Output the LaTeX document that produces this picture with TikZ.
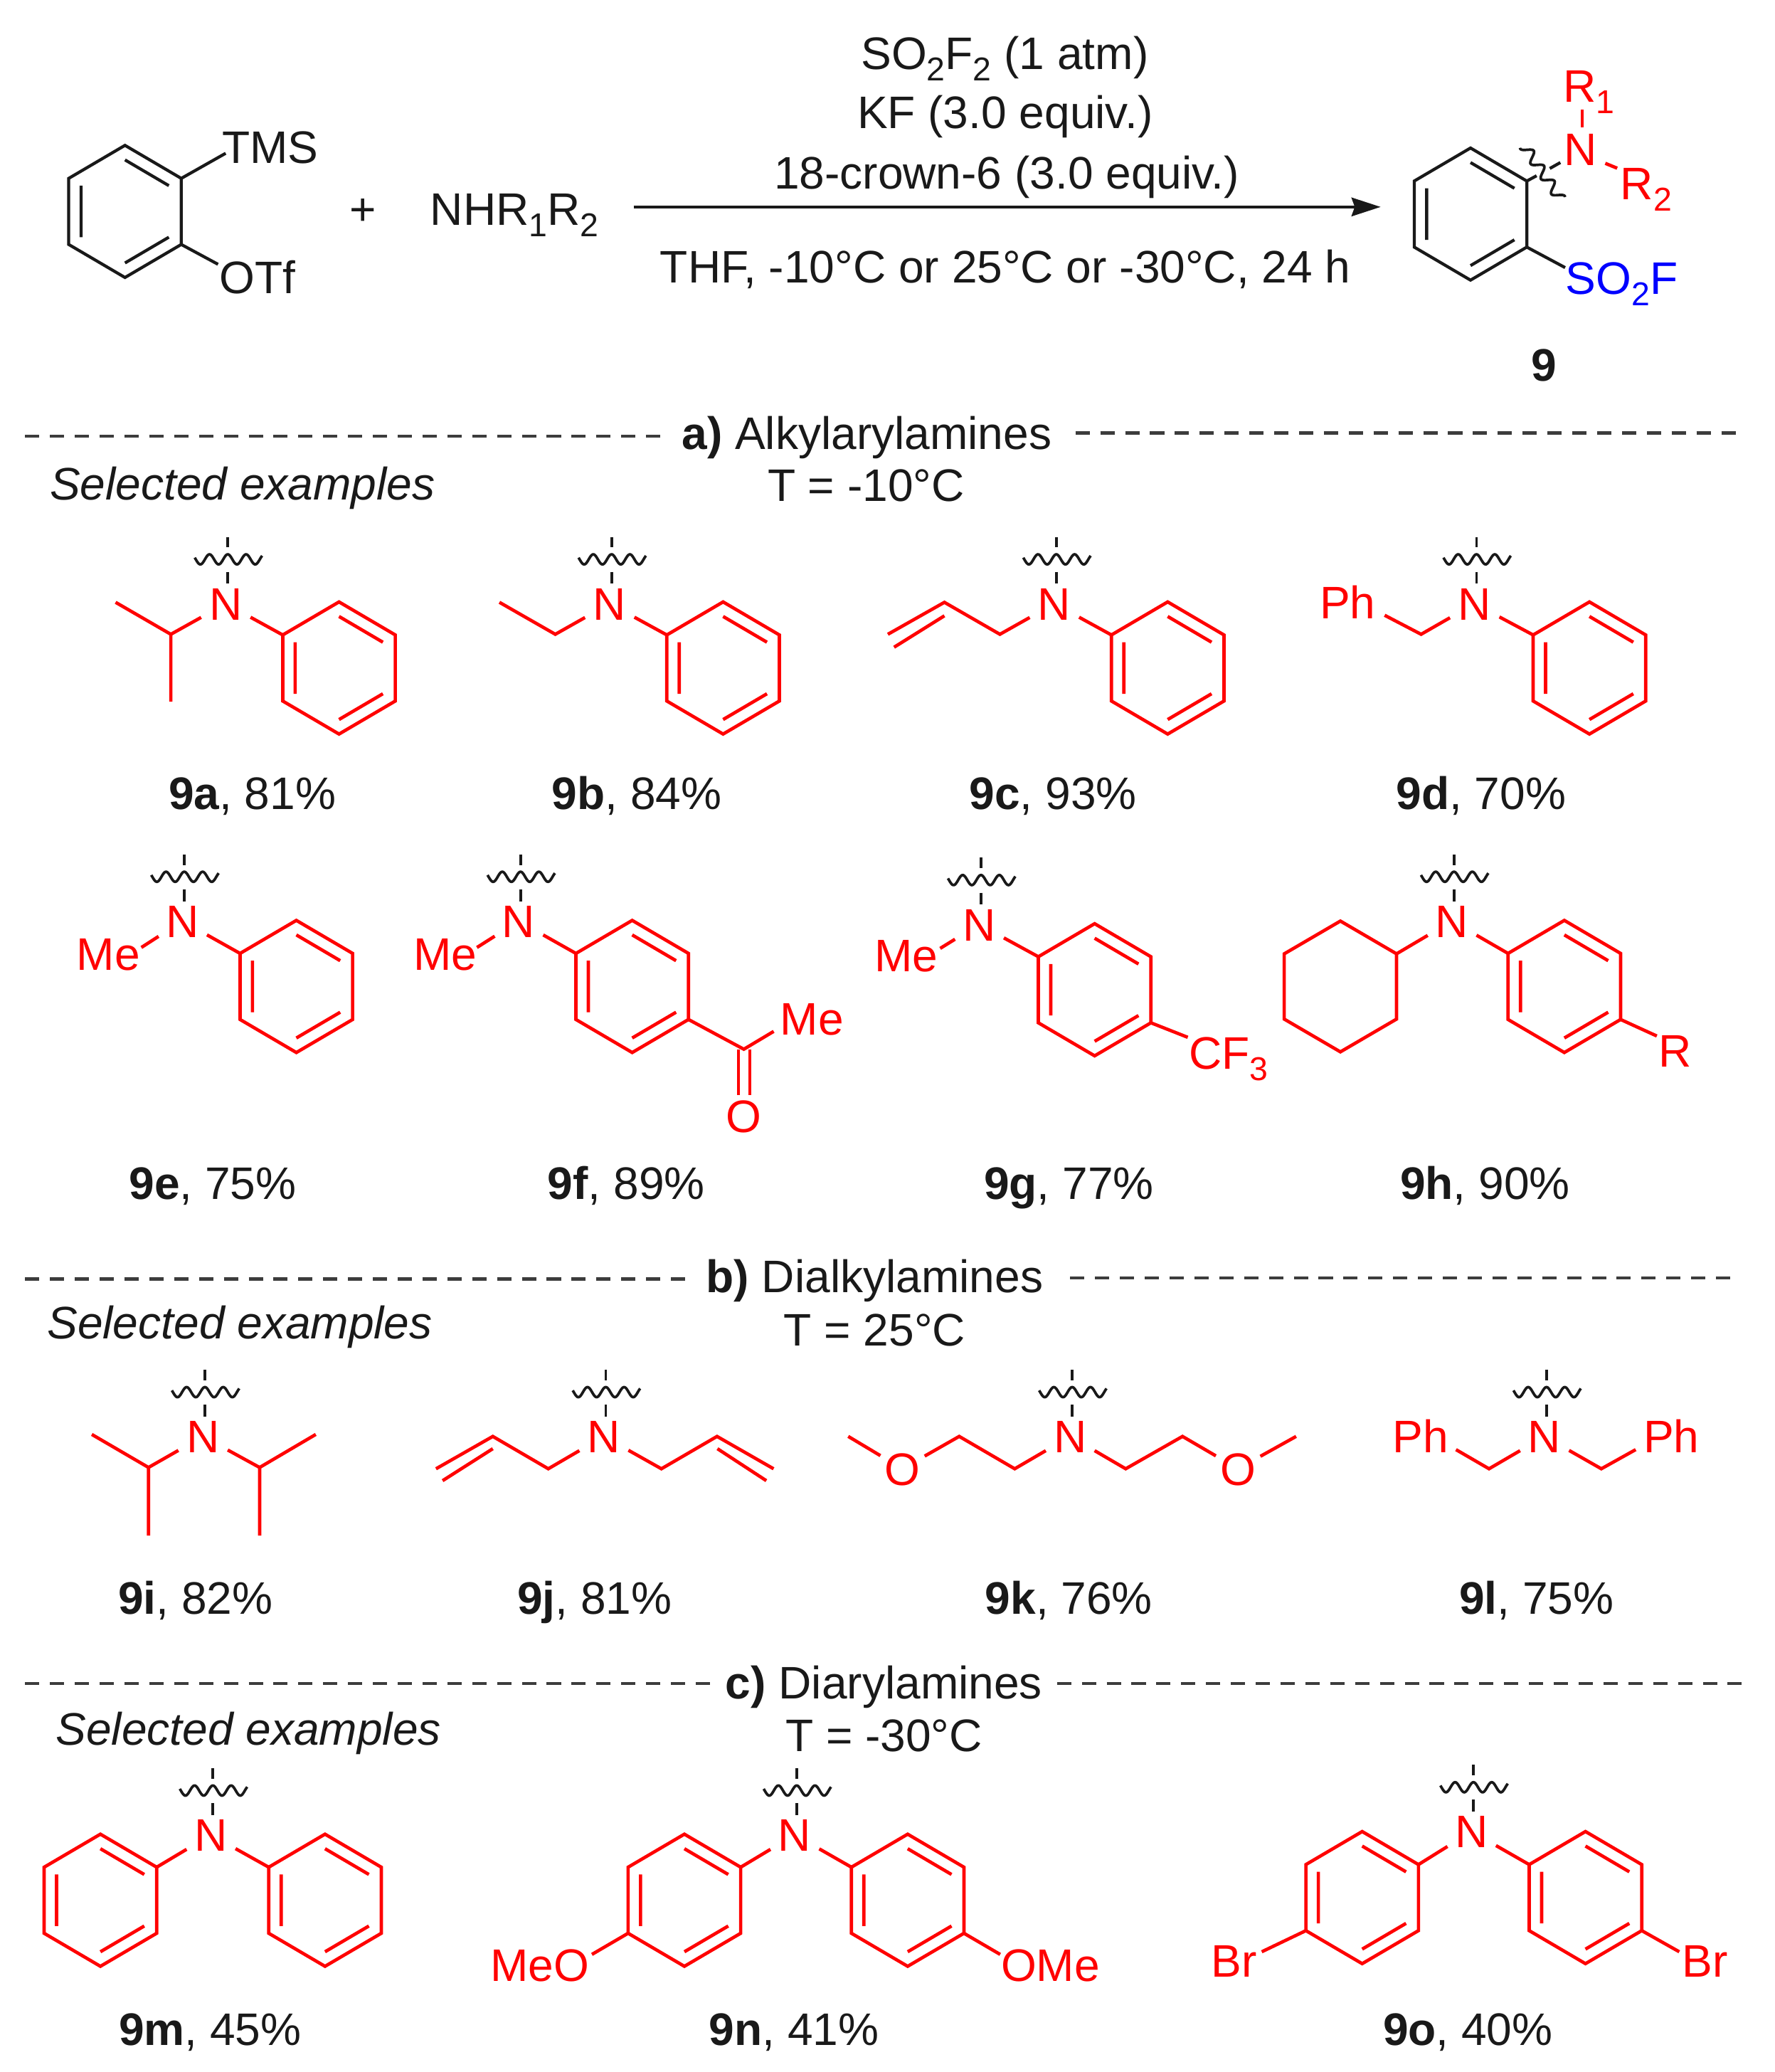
\documentclass[tikz,border=0pt]{standalone}
\usepackage{fontspec}
\setmainfont{Liberation Sans}
\usetikzlibrary{arrows.meta}
\definecolor{chemred}{RGB}{255,0,0}
\definecolor{chemblue}{RGB}{0,0,255}
\definecolor{inkk}{RGB}{25,25,25}
\tikzset{
  molr/.style={draw=chemred,line width=1.25pt,line join=miter},
  molk/.style={draw=inkk,line width=1.15pt,line join=miter},
  cut/.style={draw=inkk,line width=1pt},
  sect/.style={draw=inkk!85,line width=1.25pt,dash pattern=on 5.4pt off 4pt},
  lab/.style={font=\fontsize{17.25}{20.7}\selectfont,inner sep=0pt,text height=12.35pt,text depth=0pt,text=inkk},
  red lab/.style={lab,text=chemred},
  blue lab/.style={lab,text=chemblue},
  atomN/.style={red lab,circle,minimum size=21pt},
  atomO/.style={red lab,circle,minimum size=19pt},
}
\newcommand{\sbs}[1]{\smash{\raisebox{-4.3pt}{\fontsize{12.5}{14}\selectfont #1}}}
\newcommand{\benzring}[4][molr]{%
  \begin{scope}[shift={(#3,#4)}]
    \coordinate (#2a) at (0,-50);
    \coordinate (#2b) at (42.6,-25);
    \coordinate (#2c) at (42.6,25);
    \coordinate (#2d) at (0,50);
    \coordinate (#2e) at (-42.6,25);
    \coordinate (#2f) at (-42.6,-25);
    \draw[#1] (#2a)--(#2b)--(#2c)--(#2d)--(#2e)--(#2f)--cycle;
    \draw[#1] (0,-39)--(33.2,-19.5) (33.2,19.5)--(0,39) (-33.2,19.5)--(-33.2,-19.5);
  \end{scope}}
\newcommand{\cutmark}[1]{%
  \begin{scope}[shift={(#1)}]
    \draw[cut] plot[domain=-25:26,samples=80] ({1.5+\x},{-33.5-3.8*cos(\x*26)});
    \draw[cut] (1.5,-50.5)--(1.5,-42.5) (1.5,-24)--(1.5,-15);
  \end{scope}}
\begin{document}
\begin{tikzpicture}[x=.5pt,y=-.5pt]
\useasboundingbox (0,0) rectangle (1343,1568);
% ---------- reaction scheme
\benzring[molk]{sm}{94.6}{160}
\node[lab] (tms) at (204.5,111) {TMS};
\node[lab] (otf) at (195,210) {OTf};
\coordinate (tmsE) at (170.8,116);
\coordinate (otfE) at (165,200);
\draw[molk] (smb)--(tmsE);
\draw[molk] (smc)--(otfE);
\node[lab] (plus) at (274.6,158) {+};
\node[lab] (amine) at (389.4,158) {NHR\sbs{1}R\sbs{2}};
\coordinate (arS) at (479.6,156.6);
\coordinate (arE) at (1045,156.6);
\draw[draw=inkk,line width=1.25pt,-{Stealth[length=11pt,width=7pt,inset=1.2pt]}] (arS)--(arE);
\node[lab] (r1) at (760.5,40) {SO\sbs{2}F\sbs{2} (1 atm)};
\node[lab] (r2) at (760.7,85) {KF (3.0 equiv.)};
\node[lab] (r3) at (762,130.5) {18-crown-6 (3.0 equiv.)};
\node[lab] (r4) at (761,201.5) {THF, -10°C or 25°C or -30°C, 24 h};
\benzring[molk]{pr}{1113}{162}
\node[atomN] (prN) at (1196,113) {N};
\node[red lab] (prR1) at (1202.6,65) {R\sbs{1}};
\node[red lab] (prR2) at (1246,138.5) {R\sbs{2}};
\node[blue lab] (prS) at (1227.4,210.5) {SO\sbs{2}F};
\node[lab,font=\fontsize{17.25}{20.7}\selectfont\bfseries] (prNum) at (1168.5,276) {9};
\coordinate (prSE) at (1184.6,202.5);
\draw[molk] (prc)--(prSE);
\coordinate (prW1) at (1163,133);
\coordinate (prW2) at (1173,127.5);
\coordinate (prW3) at (1181,123);
\draw[molk] (prb)--(prW1) (prW2)--(prW3);
\begin{scope}[shift={(1167.5,130.5)},rotate=-55.6]
  \draw[cut] plot[domain=-25:25,samples=80] (\x,{3.8*sin(\x*26)});
\end{scope}
\coordinate (prR1a) at (1197.5,82.8);
\coordinate (prR1b) at (1197.5,96.4);
\draw[molr] (prR1a)--(prR1b);
\coordinate (prR2a) at (1215,123.6);
\coordinate (prR2b) at (1224,127.3);
\draw[molr] (prR2a)--(prR2b);
% ---------- section a
\coordinate (da1) at (19,330); \coordinate (da2) at (500,330);
\coordinate (da3) at (814,327.6); \coordinate (da4) at (1316,327.6);
\draw[sect] (da1)--(da2);
\draw[sect] (da3)--(da4);
\node[lab] (ha) at (656,327.5) {\textbf{a)} Alkylarylamines};
\node[lab] (ta) at (655.5,367) {T = -10°C};
\node[lab,font=\fontsize{17.25}{20.7}\selectfont\itshape] (sa) at (183.5,366) {Selected examples};
% 9a
\node[atomN] (Na) at (170.9,456.8) {N}; \cutmark{Na}
\benzring{ra}{256.6}{505.5}
\coordinate (a1) at (129.3,480); \coordinate (a2) at (87.5,455.8); \coordinate (a3) at (129.3,531);
\draw[molr] (Na)--(raf);
\draw[molr] (Na)--(a1)--(a2) (a1)--(a3);
\node[lab] (la) at (191,600) {\textbf{9a}, 81\%};
% 9b
\node[atomN] (Nb) at (461.4,456.8) {N}; \cutmark{Nb}
\benzring{rb}{547.3}{505.5}
\coordinate (b1) at (420.3,480); \coordinate (b2) at (378,455.8);
\draw[molr] (Nb)--(rbf);
\draw[molr] (Nb)--(b1)--(b2);
\node[lab] (lb) at (482,600) {\textbf{9b}, 84\%};
% 9c
\node[atomN] (Nc) at (798,456.8) {N}; \cutmark{Nc}
\benzring{rc}{883.8}{505.5}
\coordinate (c1) at (756.8,480); \coordinate (c2) at (714.8,455.8); \coordinate (c3) at (672,480);
\coordinate (c2i) at (714.8,466); \coordinate (c3i) at (676.7,489.8);
\draw[molr] (Nc)--(rcf);
\draw[molr] (Nc)--(c1)--(c2)--(c3) (c2i)--(c3i);
\node[lab] (lc) at (797,600) {\textbf{9c}, 93\%};
% 9d
\node[atomN] (Nd) at (1116,456.8) {N}; \cutmark{Nd}
\benzring{rd}{1203}{505.5}
\node[red lab] (Phd) at (1020,456) {Ph};
\coordinate (d1) at (1075.6,480); \coordinate (d2) at (1048,465.6);
\draw[molr] (Nd)--(rdf);
\draw[molr] (Nd)--(d1)--(d2);
\node[lab] (ld) at (1121,600) {\textbf{9d}, 70\%};
% 9e
\node[atomN] (Ne) at (138,697) {N}; \cutmark{Ne}
\benzring{re}{224.3}{746.5}
\node[red lab] (Mee) at (82,722) {Me};
\coordinate (e1) at (107,717);
\draw[molr] (Ne)--(ref);
\draw[molr] (Ne)--(e1);
\node[lab] (le) at (161,895) {\textbf{9e}, 75\%};
% 9f
\node[atomN] (Nf) at (392.5,697) {N}; \cutmark{Nf}
\benzring{rf}{478.5}{746.5}
\node[red lab] (Mef) at (337,722) {Me};
\coordinate (f1) at (361,717);
\node[red lab] (Mef2) at (614.5,770.6) {Me};
\node[red lab] (Of) at (562.7,844.6) {O};
\coordinate (f2) at (563,794);
\coordinate (f3) at (585.6,780.5);
\coordinate (f4a) at (559,794); \coordinate (f4b) at (559,828.5);
\coordinate (f5a) at (567.6,794); \coordinate (f5b) at (567.6,828.5);
\draw[molr] (Nf)--(rff);
\draw[molr] (Nf)--(f1);
\draw[molr] (rfc)--(f2)--(f3);
\draw[molr] (f4a)--(f4b) (f5a)--(f5b);
\node[lab] (lf) at (474,895) {\textbf{9f}, 89\%};
% 9g
\node[atomN] (Ng) at (741,699.5) {N}; \cutmark{Ng}
\benzring{rg}{828.5}{749}
\node[red lab] (Meg) at (686,723) {Me};
\node[red lab] (CFg) at (930,796.5) {CF\sbs{3}};
\coordinate (g1) at (711.6,717.7);
\coordinate (g2) at (899,785);
\draw[molr] (Ng)--(rgf);
\draw[molr] (Ng)--(g1);
\draw[molr] (rgc)--(g2);
\node[lab] (lg) at (809,895) {\textbf{9g}, 77\%};
% 9h
\node[atomN] (Nh) at (1099,697) {N}; \cutmark{Nh}
\benzring{rh}{1184}{746.5}
\coordinate (cya) at (1014.5,697); \coordinate (cyb) at (1057,721.8);
\coordinate (cyc) at (1057,771.2); \coordinate (cyd) at (1014.5,796);
\coordinate (cye) at (972,771.2); \coordinate (cyf) at (972,721.8);
\draw[molr] (cya)--(cyb)--(cyc)--(cyd)--(cye)--(cyf)--cycle;
\draw[molr] (Nh)--(cyb);
\draw[molr] (Nh)--(rhf);
\node[red lab] (Rh) at (1268,795) {R};
\coordinate (h1) at (1254,784);
\draw[molr] (rhc)--(h1);
\node[lab] (lh) at (1124,895) {\textbf{9h}, 90\%};
% ---------- section b
\coordinate (db1) at (19,968); \coordinate (db2) at (525,968);
\coordinate (db3) at (810,967); \coordinate (db4) at (1316,967);
\draw[sect] (db1)--(db2);
\draw[sect] (db3)--(db4);
\node[lab] (hb) at (662,966) {\textbf{b)} Dialkylamines};
\node[lab] (tb) at (662,1006) {T = 25°C};
\node[lab,font=\fontsize{17.25}{20.7}\selectfont\itshape] (sb) at (181.5,1001) {Selected examples};
% 9i
\node[atomN] (Ni) at (153.6,1087) {N}; \cutmark{Ni}
\coordinate (i1) at (112.4,1110.5); \coordinate (i2) at (69.5,1085.5); \coordinate (i3) at (112.4,1162);
\coordinate (i4) at (196.5,1110.5); \coordinate (i5) at (239,1085.5); \coordinate (i6) at (196.5,1162);
\draw[molr] (Ni)--(i1)--(i2) (i1)--(i3);
\draw[molr] (Ni)--(i4)--(i5) (i4)--(i6);
\node[lab] (li) at (148,1209) {\textbf{9i}, 82\%};
% 9j
\node[atomN] (Nj) at (457,1087) {N}; \cutmark{Nj}
\coordinate (j1) at (415,1111.5); \coordinate (j2) at (373,1087); \coordinate (j3) at (330,1111.5);
\coordinate (j2i) at (373,1096.3); \coordinate (j3i) at (335,1120.5);
\coordinate (j4) at (500.6,1111.5); \coordinate (j5) at (542.7,1087); \coordinate (j6) at (585.5,1111.5);
\coordinate (j5i) at (543,1096.3); \coordinate (j6i) at (580,1120.5);
\draw[molr] (Nj)--(j1)--(j2)--(j3) (j2i)--(j3i);
\draw[molr] (Nj)--(j4)--(j5)--(j6) (j5i)--(j6i);
\node[lab] (lj) at (450,1209) {\textbf{9j}, 81\%};
% 9k
\node[atomN] (Nk) at (810,1087) {N}; \cutmark{Nk}
\node[atomO] (Ok1) at (683,1111.5) {O};
\node[atomO] (Ok2) at (937,1111.5) {O};
\coordinate (k1) at (768,1111.5); \coordinate (k2) at (726,1087); \coordinate (k3) at (642,1087);
\coordinate (k4) at (852,1111.5); \coordinate (k5) at (895,1087); \coordinate (k6) at (981,1087);
\draw[molr] (Nk)--(k1)--(k2)--(Ok1);
\draw[molr] (Ok1)--(k3);
\draw[molr] (Nk)--(k4)--(k5)--(Ok2);
\draw[molr] (Ok2)--(k6);
\node[lab] (lk) at (809,1209) {\textbf{9k}, 76\%};
% 9l
\node[atomN] (Nl) at (1169,1087) {N}; \cutmark{Nl}
\node[red lab] (Phl1) at (1075,1087) {Ph};
\node[red lab] (Phl2) at (1265,1087) {Ph};
\coordinate (l1) at (1127,1111.5); \coordinate (l2) at (1102,1097);
\coordinate (l3) at (1212,1111.5); \coordinate (l4) at (1238,1097);
\draw[molr] (Nl)--(l1)--(l2);
\draw[molr] (Nl)--(l3)--(l4);
\node[lab] (ll) at (1163,1209) {\textbf{9l}, 75\%};
% ---------- section c
\coordinate (dc1) at (19,1274); \coordinate (dc2) at (540,1274);
\coordinate (dc3) at (800,1274); \coordinate (dc4) at (1320,1274);
\draw[sect] (dc1)--(dc2);
\draw[sect] (dc3)--(dc4);
\node[lab] (hc) at (669,1273) {\textbf{c)} Diarylamines};
\node[lab] (tc) at (669,1313) {T = -30°C};
\node[lab,font=\fontsize{17.25}{20.7}\selectfont\itshape] (sc) at (188,1308) {Selected examples};
% 9m
\node[atomN] (Nm) at (159.6,1388.5) {N}; \cutmark{Nm}
\benzring{rm}{76}{1438}
\benzring{rmm}{246}{1438}
\draw[molr] (Nm)--(rmb);
\draw[molr] (Nm)--(rmmf);
\node[lab] (lm) at (159,1535.5) {\textbf{9m}, 45\%};
% 9n
\node[atomN] (Nn) at (601.5,1388.5) {N}; \cutmark{Nn}
\benzring{rn}{518}{1438}
\benzring{rnn}{687}{1438}
\draw[molr] (Nn)--(rnb);
\draw[molr] (Nn)--(rnnf);
\node[red lab] (MeOn) at (408.5,1487) {MeO};
\node[red lab] (OMen) at (795,1487) {OMe};
\coordinate (n1) at (448,1479); \coordinate (n2) at (757,1479);
\draw[molr] (rne)--(n1);
\draw[molr] (rnnc)--(n2);
\node[lab] (ln) at (601,1535.5) {\textbf{9n}, 41\%};
% 9o
\node[atomN] (No) at (1113.7,1386) {N}; \cutmark{No}
\benzring{ro}{1031}{1436}
\benzring{roo}{1200}{1436}
\draw[molr] (No)--(rob);
\draw[molr] (No)--(roof);
\node[red lab] (Bro1) at (934,1484) {Br};
\node[red lab] (Bro2) at (1290.5,1484) {Br};
\coordinate (o1) at (955,1477); \coordinate (o2) at (1271,1477);
\draw[molr] (roe)--(o1);
\draw[molr] (rooc)--(o2);
\node[lab] (lo) at (1111,1535.5) {\textbf{9o}, 40\%};
\end{tikzpicture}
\end{document}
